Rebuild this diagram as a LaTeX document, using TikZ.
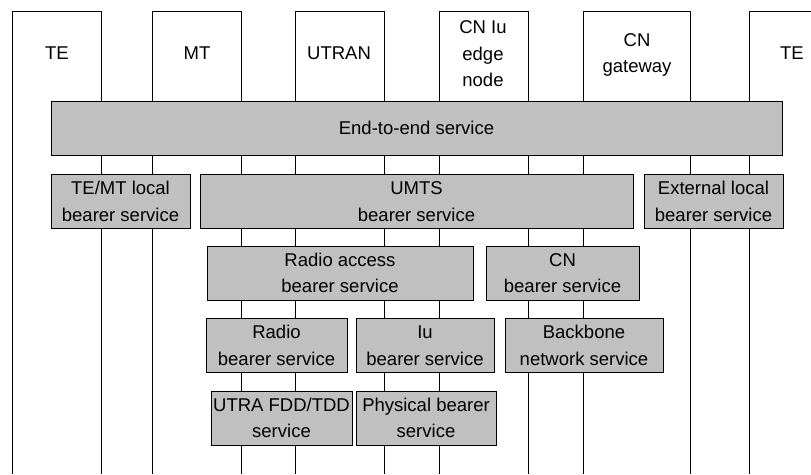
\documentclass[tikz,border=0pt]{standalone}
\usepackage{fontspec}
\setmainfont{Liberation Sans}
\usetikzlibrary{positioning}
\definecolor{cSvc}{HTML}{C0C0C0}

\begin{document}
\begin{tikzpicture}[
    x=1pt, y=-1pt,
    every node/.style={font=\fontsize{18.5}{26.5}\selectfont, align=center},
    svc/.style={draw, fill=cSvc, line width=1pt, inner sep=0pt,
                minimum width=#1, minimum height=54pt},
    col/.style={draw, line width=1pt},
  ]
  \useasboundingbox (0,0) rectangle (811,474);

  % Entities (columns open at the bottom)
  \foreach \l/\r in {12/101, 152/241, 295/384, 439/528, 583/690, 749/860}
    \draw[col] (\l,474) -- (\l,11) -- (\r,11) -- (\r,474);

  \node (te1)   at (57,53)  {TE};
  \node (mt)    at (197,53) {MT};
  \node (utran) at (339,53) {UTRAN};
  \node (cniu)  at (483,54) {CN Iu\\edge\\node};
  \node (cngw)  at (637,55) {CN\\gateway};
  \node (te2)   at (792,53) {TE};

  % Bearer services
  \node[svc=731pt] (e2e)   at (416.5,128)   {End-to-end service};
  \node[svc=139pt] (tmloc) at (120.5,201.5) {TE/MT local\\bearer service};
  \node[svc=433pt] (umts)  at (416.5,201.5) {UMTS\\bearer service};
  \node[svc=139pt] (extloc) at (713.5,201.5) {External local\\bearer service};

  \node[svc=266pt] (rab) at (340,273)   {Radio access\\bearer service};
  \node[svc=153pt] (cnb) at (562.5,273) {CN\\bearer service};

  \node[svc=141pt] (rb)  at (276.5,345.5) {Radio\\bearer service};
  \node[svc=138pt] (iub) at (425,345.5)   {Iu\\bearer service};
  \node[svc=158pt] (bb)  at (584,345.5)   {Backbone\\network service};

  \node[svc=141pt] (utra) at (281.5,418) {UTRA FDD/TDD\\service};
  \node[svc=140pt] (phys) at (426,418)   {Physical bearer\\service};
\end{tikzpicture}
\end{document}
